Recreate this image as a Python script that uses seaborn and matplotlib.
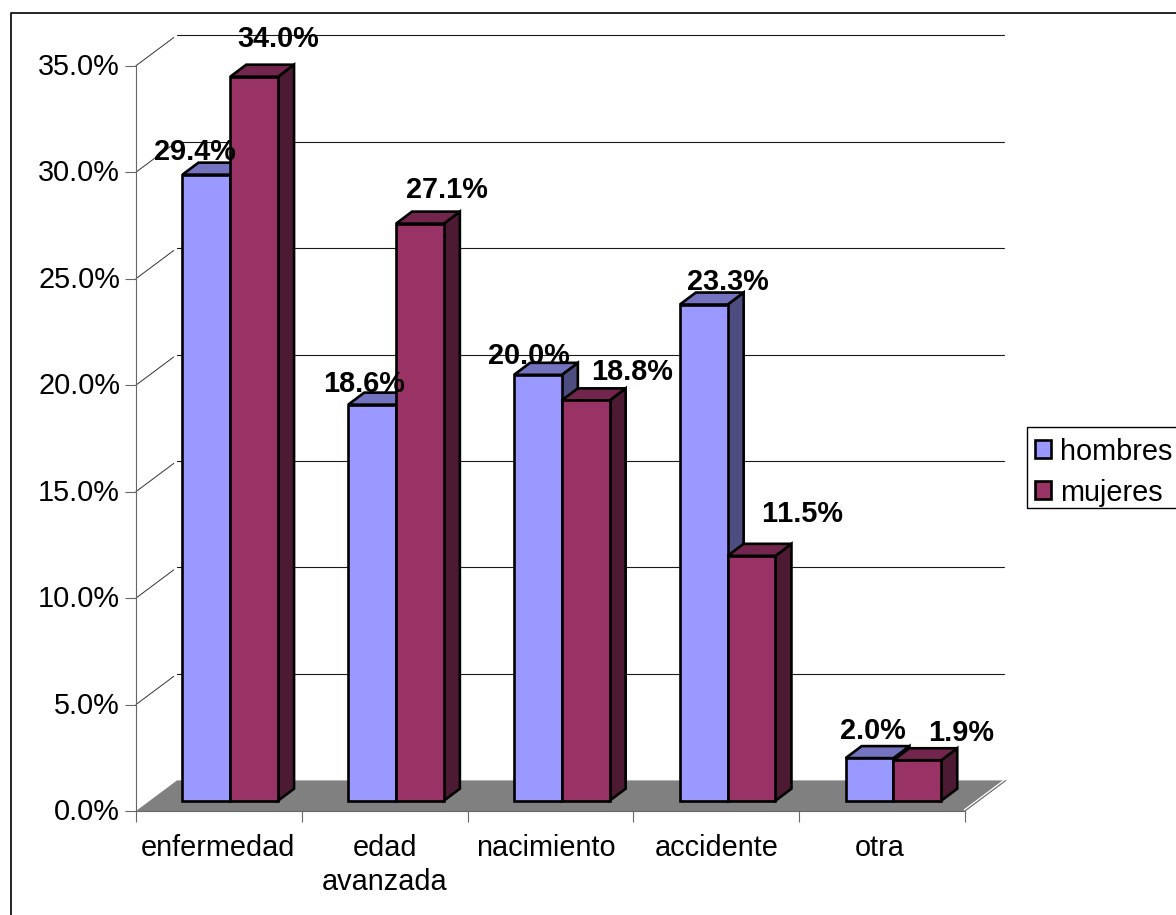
import matplotlib
matplotlib.use("Agg")
import matplotlib.pyplot as plt
from matplotlib.lines import Line2D
from matplotlib.patches import Polygon, Rectangle
from matplotlib.colors import to_rgb
from matplotlib.transforms import ScaledTranslation
import pandas as pd
import seaborn as sns

# Causes of death, share by sex
categories = ["enfermedad", "edad\navanzada", "nacimiento", "accidente", "otra"]
hombres = [29.4, 18.6, 20.0, 23.3, 2.0]
mujeres = [34.0, 27.1, 18.8, 11.5, 1.9]
y_ticks = [0, 5, 10, 15, 20, 25, 30, 35]

# Label nudges in pixels relative to the top centre of each bar
hombres_nudge = [(-11, 23), (-8, 21), (-9, 19), (24, 23), (3, 27)]
mujeres_nudge = [(24, 38), (27, 34), (46, 28), (51, 42), (44, 27)]
category_nudge = [-1, 0, -5, 0, -2]

W, H = 1176, 915
LEFT, RIGHT, BASE, TOP = 136, 965, 811, 65.7
PX_X = (RIGHT - LEFT) / 5
PX_Y = (BASE - TOP) / 35

sns.set_theme(style="white")
plt.rcParams["font.family"] = ["Liberation Sans", "DejaVu Sans"]
plt.rcParams["text.kerning_factor"] = 6
FS = 20.8
EDGE = 1.9

fig = plt.figure(figsize=(W / 100, H / 100), dpi=100, facecolor="white")
ax = fig.add_axes([LEFT / W, 1 - BASE / H, (RIGHT - LEFT) / W, (BASE - TOP) / H])
ax.set_facecolor("none")

df = pd.DataFrame({
    "causa": categories * 2,
    "sexo": ["hombres"] * 5 + ["mujeres"] * 5,
    "valor": hombres + mujeres,
})
palette = {"hombres": "#9999FF", "mujeres": "#993366"}
sns.barplot(data=df, x="causa", y="valor", hue="sexo", palette=palette, order=categories,
            width=95.6 / PX_X, gap=0, errorbar=None, legend=False, ax=ax,
            edgecolor="black", linewidth=EDGE, saturation=1)

# Bars sit part way into the floor, so the scale is shifted to their depth
x_shift = (230.25 - (LEFT + PX_X / 2)) / PX_X
x0 = -0.5 - x_shift
x1 = x0 + 5
ax.set_xlim(x0, x1)
ax.set_ylim(0, 35)

# Wall and floor depth, bar depth and bar lift, in data units
wall_dx, wall_dy = 41 / PX_X, 30.6 / PX_Y
bar_dx, bar_dy = 16 / PX_X, 12 / PX_Y
lift = (BASE - 800.7) / PX_Y

# Floor
ax.add_patch(Polygon([(x0, 0), (x0 + wall_dx, wall_dy), (x1 + wall_dx, wall_dy), (x1, 0)],
                     closed=True, facecolor="#808080", edgecolor="none", zorder=1, clip_on=False))
ax.plot([x1 - 0.004, x1 + wall_dx - 0.004], [0.05, wall_dy + 0.05], color="white", lw=1.0, zorder=1.1, clip_on=False)
ax.plot([x1, x1 + wall_dx], [0, wall_dy], color="#666666", lw=0.7, zorder=1.1, clip_on=False)

# Back wall gridlines and left wall diagonals
for v in y_ticks:
    if v > 0:
        ax.plot([x0 + wall_dx, x1 + wall_dx * 0.94], [v + wall_dy, v + wall_dy],
                color="#1a1a1a", lw=0.8, zorder=0.5, clip_on=False)
        ax.plot([x0, x0 + wall_dx * 0.92], [v, v + wall_dy * 0.92],
                color="#333333", lw=0.7, zorder=0.5, clip_on=False)


def shade(colour, factor):
    return tuple(c * factor for c in to_rgb(colour))


# Extrude every bar with a top and a side face
series_nudges = [hombres_nudge, mujeres_nudge]
series_names = ["hombres", "mujeres"]
for s, container in enumerate(ax.containers):
    base_colour = palette[series_names[s]]
    for i, bar in enumerate(container.patches):
        bar.set_y(lift)
        bar.set_zorder(3 + 2 * s + 0.5)
        bar.set_joinstyle("miter")
        bar.set_clip_on(False)
        x, w, h = bar.get_x(), bar.get_width(), bar.get_height()
        y = lift
        side = [(x + w, y), (x + w + bar_dx, y + bar_dy), (x + w + bar_dx, y + h + bar_dy), (x + w, y + h)]
        top = [(x, y + h), (x + bar_dx, y + h + bar_dy), (x + w + bar_dx, y + h + bar_dy), (x + w, y + h)]
        ax.add_patch(Polygon(side, closed=True, facecolor=shade(base_colour, 0.5), edgecolor="black",
                             lw=EDGE, joinstyle="miter", zorder=3 + 2 * s, clip_on=False))
        ax.add_patch(Polygon(top, closed=True, facecolor=shade(base_colour, 0.75), edgecolor="black",
                             lw=EDGE, joinstyle="miter", zorder=3 + 2 * s, clip_on=False))
        dx, dy = series_nudges[s][i]
        ax.annotate(f"{h:.1f}%", (x + w / 2, y + h), xytext=(dx, dy), textcoords="offset pixels",
                    ha="center", va="center", fontsize=FS, fontweight="bold", color="black",
                    zorder=10, annotation_clip=False)

# Axes
sns.despine(ax=ax, top=True, right=True)
for name in ("left", "bottom"):
    ax.spines[name].set_color("#666666")
    ax.spines[name].set_linewidth(0.8)
    ax.spines[name].set_zorder(2)
ax.set_xlabel("")
ax.set_ylabel("")
ax.set_yticks(y_ticks)
ax.set_yticklabels([f"{v:.1f}%" for v in y_ticks], fontsize=FS, color="black")
ax.tick_params(axis="y", which="major", left=True, length=8, width=0.8, color="#666666", pad=3.5)
ax.set_xticks([x0 + k for k in range(6)])
ax.set_xticklabels([])
ax.set_xticks([x0 + k + 0.5 for k in range(5)], minor=True)
ax.set_xticklabels(categories, minor=True, fontsize=FS, color="black", linespacing=1.27)
ax.tick_params(axis="x", which="major", bottom=True, length=8, width=0.8, color="#666666")
ax.tick_params(axis="x", which="minor", bottom=False, length=0, pad=16.5)

# Small pixel offsets on the tick labels
for label in ax.get_yticklabels():
    label.set_transform(label.get_transform() + ScaledTranslation(0, 2 / 100, fig.dpi_scale_trans))
for label, nudge in zip(ax.get_xticklabels(minor=True), category_nudge):
    label.set_transform(label.get_transform() + ScaledTranslation(nudge / 100, 0, fig.dpi_scale_trans))

# Legend, with its box running off the right edge
handles = [Rectangle((0, 0), 1, 1, facecolor=palette[n], edgecolor="black", lw=EDGE) for n in series_names]
ax.legend(handles, series_names, loc="upper left", bbox_to_anchor=(1026 / W, 1 - 429 / H),
          bbox_transform=fig.transFigure, borderaxespad=0, fontsize=FS, frameon=False,
          handlelength=0.58, handleheight=0.58, handletextpad=0.3, labelspacing=0.45,
          borderpad=0.3, labelcolor="black")
fig.add_artist(Rectangle((1026.5 / W, 1 - 508 / H), 170 / W, 81 / H, transform=fig.transFigure,
                         facecolor="white", edgecolor="black", lw=1.0, zorder=-1))

# Chart frame runs off the right and bottom edges
fig.add_artist(Line2D([10.5 / W, 10.5 / W, 1], [0, 1 - 12.5 / H, 1 - 12.5 / H], color="black", lw=1.2))

fig.savefig("out.png", dpi=100)
